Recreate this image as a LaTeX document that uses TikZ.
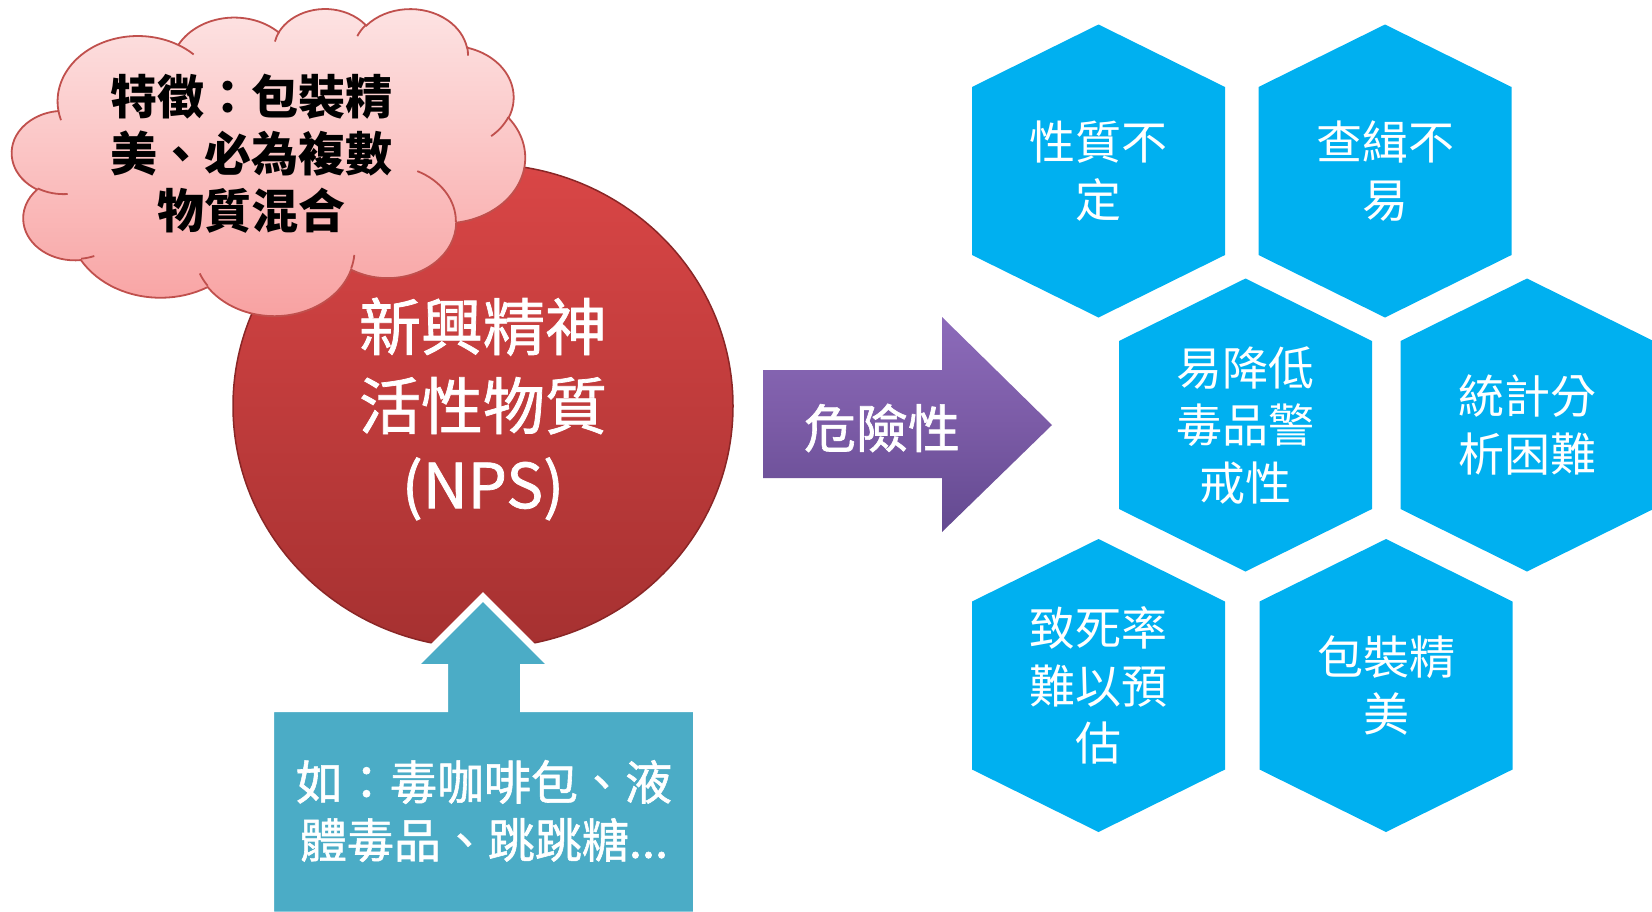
\documentclass[tikz,border=0pt]{standalone}
\usepackage{fontspec}
\setmainfont{Noto Sans CJK TC}
\newfontfamily\cjkmed{Noto Sans CJK TC}[FakeBold=1.2]
\usetikzlibrary{shapes.geometric}
\definecolor{hexblue}{HTML}{00B0F0}
\definecolor{aqua}{HTML}{4BACC6}
\definecolor{cloudline}{HTML}{C0504D}
\definecolor{cloudtop}{HTML}{FDE4E4}
\definecolor{cloudbot}{HTML}{F8A0A0}
\definecolor{redtop}{HTML}{D94646}
\definecolor{redbot}{HTML}{A63131}
\definecolor{redrim}{HTML}{8A2626}
\definecolor{purtop}{HTML}{8C6BBA}
\definecolor{purmid}{HTML}{7B5BA6}
\definecolor{purbot}{HTML}{634990}
\tikzset{
  hexcell/.style={fill=hexblue},
  hextext/.style={text=white, align=center, inner sep=0pt, font=\fontsize{46}{57.5}\selectfont},
  cloudbody/.style={top color=cloudtop, bottom color=cloudbot, draw=cloudline, line width=1.8pt},
  cloudcrease/.style={draw=cloudline, line width=1.8pt},
  cloudtext/.style={text=black, align=center, inner sep=0pt, font=\fontsize{47}{57}\selectfont\bfseries},
  npsbody/.style={ellipse, minimum width=500pt, minimum height=484pt, inner sep=0pt, top color=redtop, bottom color=redbot, draw=redrim, line width=1.5pt},
  npstext/.style={text=white, align=center, inner sep=0pt, font=\cjkmed\fontsize{62}{79}\selectfont},
  arrowbody/.style={top color=purtop, bottom color=purbot, middle color=purmid},
  arrowtext/.style={text=white, inner sep=0pt, font=\cjkmed\fontsize{52}{60}\selectfont},
  callbody/.style={fill=aqua, draw=white, line width=7pt, line join=miter},
  calltext/.style={text=white, align=center, inner sep=0pt, font=\cjkmed\fontsize{47}{58}\selectfont},
}
\newcommand\hexcellat[4]{%
  \fill[hexcell] (#2,#3) ++(0,-146.5) -- ++(126.5,62.5) -- ++(0,168) -- ++(-126.5,62.5) -- ++(-126.5,-62.5) -- ++(0,-168) -- cycle;
  \node[hextext] (#1) at (#2,#3) {#4};}
\begin{document}
\begin{tikzpicture}[x=1pt,y=1pt,yscale=-1]
\useasboundingbox (0,0) rectangle (1652,911);
% central circle
\node[npsbody] (nps) at (483,406) {};
\node[npstext] (npslabel) at (483,409) {新興精神\\活性物質\\(NPS)};
% cloud callout
\begin{scope}[shift={(12,8)}, xscale=1.1875, yscale=0.71065]
\path[cloudbody] (39.00,143.70)
  arc[start angle=-187.745, end angle=-59.635, x radius=67.53, y radius=91.90]
  arc[start angle=-152.02, end angle=-45.431, x radius=53.33, y radius=72.67]
  arc[start angle=-153.49, end angle=-37.33, x radius=43.65, y radius=59.45]
  arc[start angle=-139.70, end angle=-10.21, x radius=48.57, y radius=65.95]
  arc[start angle=-74.77, end angle=23.21, x radius=53.33, y radius=72.73]
  arc[start angle=-37.54, end angle=81.86, x radius=67.75, y radius=92.20]
  arc[start angle=0.46, end angle=121.98, x radius=57.85, y radius=78.67]
  arc[start angle=16.85, end angle=146.23, x radius=67.52, y radius=92.15]
  arc[start angle=59.00, end angle=150.20, x radius=77.20, y radius=105.43]
  arc[start angle=83.31, end angle=223.13, x radius=43.60, y radius=59.18]
  arc[start angle=120.36, end angle=264.11, x radius=43.45, y radius=59.45]
  -- cycle;
\path[cloudcrease]
  (46.93,261.77) arc[start angle=85.55, end angle=120.36, x radius=43.45, y radius=59.45]
  (69.28,348.99) arc[start angle=68.23, end angle=83.31, x radius=43.60, y radius=59.18]
  (164.78,390.90) arc[start angle=146.23, end angle=158.47, x radius=67.52, y radius=92.15]
  (288.27,347.51) arc[start angle=4.74, end angle=16.85, x radius=67.52, y radius=92.15]
  (341.29,229.54) arc[start angle=-64.03, end angle=0.46, x radius=57.85, y radius=78.67]
  (417.98,153.54) arc[start angle=23.21, end angle=49.63, x radius=53.33, y radius=72.73]
  (383.24,54.26) arc[start angle=-10.21, end angle=0.82, x radius=48.57, y radius=65.95]
  (290.78,39.52) arc[start angle=-156.29, end angle=-139.70, x radius=48.57, y radius=65.95]
  (221.41,47.20) arc[start angle=-167.73, end angle=-153.49, x radius=43.65, y radius=59.45]
  (140.00,51.92) arc[start angle=-59.64, end angle=-45.74, x radius=67.53, y radius=91.90]
  (41.27,157.89) arc[start angle=163.19, end angle=172.26, x radius=67.53, y radius=91.90];
\end{scope}
\node[cloudtext] (cloudlabel) at (251,154) {特徵：包裝精\\美、必為複數\\物質混合};
% up-arrow callout
\path[callbody] (270.5,915) -- (270.5,708.5) -- (444.5,708.5) -- (444.5,667.5) -- (412.5,667.5)
  -- (483,597) -- (553.5,667.5) -- (523.5,667.5) -- (523.5,708.5) -- (696.5,708.5) -- (696.5,915) -- cycle;
\node[calltext] (examples) at (484,811) {如：毒咖啡包、液\\體毒品、跳跳糖...};
% danger arrow
\path[arrowbody] (763,370) -- (942,370) -- (942,317) -- (1052,425) -- (942,532) -- (942,478) -- (763,478) -- cycle;
\node[arrowtext] (danger) at (882,428) {危險性};
% hexagons
\hexcellat{h1}{1098.5}{171}{性質不\\定}
\hexcellat{h2}{1385}{171}{查緝不\\易}
\hexcellat{h3}{1245.5}{425}{易降低\\毒品警\\戒性}
\hexcellat{h4}{1527}{425}{統計分\\析困難}
\hexcellat{h5}{1098.5}{685.5}{致死率\\難以預\\估}
\hexcellat{h6}{1386}{685.5}{包裝精\\美}
\end{tikzpicture}
\end{document}
